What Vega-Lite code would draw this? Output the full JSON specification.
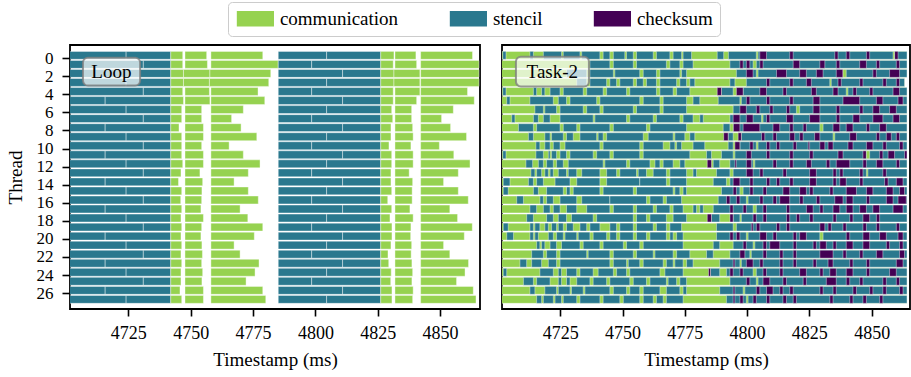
{
"$schema":"https://vega.github.io/schema/vega-lite/v6.json",
"background":"white",
"padding":{"left":5,"top":1,"right":2,"bottom":2},
"spacing":20,
"config":{"font":"Liberation Serif","view":{"stroke":"black","strokeWidth":1.8},
"axis":{"labelFont":"Liberation Serif","titleFont":"Liberation Serif","labelOverlap":false,"grid":false,"domain":false,"tickColor":"black","tickWidth":1.6,"labelColor":"black","titleColor":"black","titleFontWeight":"normal"},
"axisX":{"tickSize":7,"labelFontSize":18,"labelPadding":8,"titleFontSize":19,"titlePadding":8,"labelFlush":false},
"axisY":{"tickSize":8,"labelFontSize":17,"labelPadding":9,"titleFontSize":19,"titlePadding":11,"labelOverlap":false,"labelBound":false},
"legend":{"labelFont":"Liberation Serif","titleFont":"Liberation Serif"},
"text":{"font":"Liberation Serif"}},
"datasets":{
"loop":[
{"t":0,"s":4700,"e":4724.1,"k":"stencil"},{"t":0,"s":4724.1,"e":4742.0,"k":"stencil"},{"t":0,"s":4742.0,"e":4746.8,"k":"communication"},{"t":0,"s":4747.7,"e":4756.4,"k":"communication"},{"t":0,"s":4758.1,"e":4778.9,"k":"communication"},{"t":0,"s":4785.1,"e":4804.5,"k":"stencil"},{"t":0,"s":4804.5,"e":4826.2,"k":"stencil"},{"t":0,"s":4826.2,"e":4831.5,"k":"communication"},{"t":0,"s":4831.9,"e":4840.3,"k":"communication"},{"t":0,"s":4842.2,"e":4863.0,"k":"communication"},
{"t":1,"s":4700,"e":4731.0,"k":"stencil"},{"t":1,"s":4731.0,"e":4742.0,"k":"stencil"},{"t":1,"s":4742.0,"e":4746.8,"k":"communication"},{"t":1,"s":4747.7,"e":4756.7,"k":"communication"},{"t":1,"s":4758.1,"e":4785.1,"k":"communication"},{"t":1,"s":4785.1,"e":4798.5,"k":"stencil"},{"t":1,"s":4798.5,"e":4826.2,"k":"stencil"},{"t":1,"s":4826.2,"e":4831.2,"k":"communication"},{"t":1,"s":4831.9,"e":4840.6,"k":"communication"},{"t":1,"s":4842.2,"e":4865.6,"k":"communication"},
{"t":2,"s":4700,"e":4715.7,"k":"stencil"},{"t":2,"s":4715.7,"e":4742.0,"k":"stencil"},{"t":2,"s":4742.0,"e":4747.1,"k":"communication"},{"t":2,"s":4747.1,"e":4757.7,"k":"communication"},{"t":2,"s":4757.7,"e":4782.1,"k":"communication"},{"t":2,"s":4785.1,"e":4810.9,"k":"stencil"},{"t":2,"s":4810.9,"e":4826.2,"k":"stencil"},{"t":2,"s":4826.2,"e":4831.5,"k":"communication"},{"t":2,"s":4831.5,"e":4841.9,"k":"communication"},{"t":2,"s":4842.2,"e":4865.6,"k":"communication"},
{"t":3,"s":4700,"e":4724.1,"k":"stencil"},{"t":3,"s":4724.1,"e":4742.0,"k":"stencil"},{"t":3,"s":4742.0,"e":4747.1,"k":"communication"},{"t":3,"s":4747.1,"e":4757.5,"k":"communication"},{"t":3,"s":4757.5,"e":4781.3,"k":"communication"},{"t":3,"s":4785.1,"e":4804.5,"k":"stencil"},{"t":3,"s":4804.5,"e":4826.2,"k":"stencil"},{"t":3,"s":4826.2,"e":4831.5,"k":"communication"},{"t":3,"s":4831.5,"e":4841.9,"k":"communication"},{"t":3,"s":4842.2,"e":4865.6,"k":"communication"},
{"t":4,"s":4700,"e":4731.0,"k":"stencil"},{"t":4,"s":4731.0,"e":4742.0,"k":"stencil"},{"t":4,"s":4742.0,"e":4746.8,"k":"communication"},{"t":4,"s":4747.7,"e":4757.5,"k":"communication"},{"t":4,"s":4758.1,"e":4777.0,"k":"communication"},{"t":4,"s":4785.1,"e":4798.5,"k":"stencil"},{"t":4,"s":4798.5,"e":4826.2,"k":"stencil"},{"t":4,"s":4826.2,"e":4831.2,"k":"communication"},{"t":4,"s":4831.9,"e":4841.9,"k":"communication"},{"t":4,"s":4842.2,"e":4861.0,"k":"communication"},
{"t":5,"s":4700,"e":4715.7,"k":"stencil"},{"t":5,"s":4715.7,"e":4742.0,"k":"stencil"},{"t":5,"s":4742.0,"e":4747.1,"k":"communication"},{"t":5,"s":4747.7,"e":4757.7,"k":"communication"},{"t":5,"s":4758.1,"e":4779.7,"k":"communication"},{"t":5,"s":4785.1,"e":4810.9,"k":"stencil"},{"t":5,"s":4810.9,"e":4826.2,"k":"stencil"},{"t":5,"s":4826.2,"e":4831.2,"k":"communication"},{"t":5,"s":4831.9,"e":4840.6,"k":"communication"},{"t":5,"s":4842.2,"e":4863.7,"k":"communication"},
{"t":6,"s":4700,"e":4724.1,"k":"stencil"},{"t":6,"s":4724.1,"e":4742.0,"k":"stencil"},{"t":6,"s":4742.0,"e":4746.4,"k":"communication"},{"t":6,"s":4747.7,"e":4754.4,"k":"communication"},{"t":6,"s":4758.1,"e":4771.1,"k":"communication"},{"t":6,"s":4785.1,"e":4804.5,"k":"stencil"},{"t":6,"s":4804.5,"e":4826.2,"k":"stencil"},{"t":6,"s":4826.2,"e":4830.6,"k":"communication"},{"t":6,"s":4831.9,"e":4838.6,"k":"communication"},{"t":6,"s":4842.2,"e":4855.3,"k":"communication"},
{"t":7,"s":4700,"e":4731.0,"k":"stencil"},{"t":7,"s":4731.0,"e":4742.0,"k":"stencil"},{"t":7,"s":4742.0,"e":4746.4,"k":"communication"},{"t":7,"s":4747.7,"e":4754.4,"k":"communication"},{"t":7,"s":4758.1,"e":4766.4,"k":"communication"},{"t":7,"s":4785.1,"e":4798.5,"k":"stencil"},{"t":7,"s":4798.5,"e":4826.2,"k":"stencil"},{"t":7,"s":4826.2,"e":4831.0,"k":"communication"},{"t":7,"s":4831.9,"e":4838.6,"k":"communication"},{"t":7,"s":4842.2,"e":4850.6,"k":"communication"},
{"t":8,"s":4700,"e":4715.7,"k":"stencil"},{"t":8,"s":4715.7,"e":4742.0,"k":"stencil"},{"t":8,"s":4742.0,"e":4745.3,"k":"communication"},{"t":8,"s":4747.7,"e":4755.1,"k":"communication"},{"t":8,"s":4758.1,"e":4770.2,"k":"communication"},{"t":8,"s":4785.1,"e":4810.9,"k":"stencil"},{"t":8,"s":4810.9,"e":4826.2,"k":"stencil"},{"t":8,"s":4826.2,"e":4830.3,"k":"communication"},{"t":8,"s":4831.9,"e":4839.0,"k":"communication"},{"t":8,"s":4842.2,"e":4854.2,"k":"communication"},
{"t":9,"s":4700,"e":4724.1,"k":"stencil"},{"t":9,"s":4724.1,"e":4742.0,"k":"stencil"},{"t":9,"s":4742.0,"e":4746.4,"k":"communication"},{"t":9,"s":4747.7,"e":4755.1,"k":"communication"},{"t":9,"s":4758.1,"e":4776.5,"k":"communication"},{"t":9,"s":4785.1,"e":4804.5,"k":"stencil"},{"t":9,"s":4804.5,"e":4826.2,"k":"stencil"},{"t":9,"s":4826.2,"e":4830.3,"k":"communication"},{"t":9,"s":4831.9,"e":4839.2,"k":"communication"},{"t":9,"s":4842.2,"e":4860.6,"k":"communication"},
{"t":10,"s":4700,"e":4731.0,"k":"stencil"},{"t":10,"s":4731.0,"e":4742.0,"k":"stencil"},{"t":10,"s":4742.0,"e":4746.4,"k":"communication"},{"t":10,"s":4747.7,"e":4754.4,"k":"communication"},{"t":10,"s":4758.1,"e":4765.4,"k":"communication"},{"t":10,"s":4785.1,"e":4798.5,"k":"stencil"},{"t":10,"s":4798.5,"e":4826.2,"k":"stencil"},{"t":10,"s":4826.2,"e":4829.5,"k":"communication"},{"t":10,"s":4831.9,"e":4838.3,"k":"communication"},{"t":10,"s":4842.2,"e":4849.7,"k":"communication"},
{"t":11,"s":4700,"e":4715.7,"k":"stencil"},{"t":11,"s":4715.7,"e":4742.0,"k":"stencil"},{"t":11,"s":4742.0,"e":4746.4,"k":"communication"},{"t":11,"s":4747.7,"e":4755.1,"k":"communication"},{"t":11,"s":4758.1,"e":4771.1,"k":"communication"},{"t":11,"s":4785.1,"e":4810.9,"k":"stencil"},{"t":11,"s":4810.9,"e":4826.2,"k":"stencil"},{"t":11,"s":4826.2,"e":4830.6,"k":"communication"},{"t":11,"s":4831.9,"e":4839.2,"k":"communication"},{"t":11,"s":4842.2,"e":4855.5,"k":"communication"},
{"t":12,"s":4700,"e":4724.1,"k":"stencil"},{"t":12,"s":4724.1,"e":4742.0,"k":"stencil"},{"t":12,"s":4742.0,"e":4746.8,"k":"communication"},{"t":12,"s":4747.7,"e":4755.1,"k":"communication"},{"t":12,"s":4758.1,"e":4777.8,"k":"communication"},{"t":12,"s":4785.1,"e":4804.5,"k":"stencil"},{"t":12,"s":4804.5,"e":4826.2,"k":"stencil"},{"t":12,"s":4826.2,"e":4830.6,"k":"communication"},{"t":12,"s":4831.9,"e":4839.2,"k":"communication"},{"t":12,"s":4842.2,"e":4862.0,"k":"communication"},
{"t":13,"s":4700,"e":4731.0,"k":"stencil"},{"t":13,"s":4731.0,"e":4742.0,"k":"stencil"},{"t":13,"s":4742.0,"e":4746.1,"k":"communication"},{"t":13,"s":4747.7,"e":4753.7,"k":"communication"},{"t":13,"s":4758.1,"e":4773.1,"k":"communication"},{"t":13,"s":4785.1,"e":4798.5,"k":"stencil"},{"t":13,"s":4798.5,"e":4826.2,"k":"stencil"},{"t":13,"s":4826.2,"e":4830.3,"k":"communication"},{"t":13,"s":4831.9,"e":4837.6,"k":"communication"},{"t":13,"s":4842.2,"e":4857.3,"k":"communication"},
{"t":14,"s":4700,"e":4715.7,"k":"stencil"},{"t":14,"s":4715.7,"e":4742.0,"k":"stencil"},{"t":14,"s":4742.0,"e":4745.1,"k":"communication"},{"t":14,"s":4747.7,"e":4754.8,"k":"communication"},{"t":14,"s":4758.1,"e":4767.4,"k":"communication"},{"t":14,"s":4785.1,"e":4810.9,"k":"stencil"},{"t":14,"s":4810.9,"e":4826.2,"k":"stencil"},{"t":14,"s":4826.2,"e":4830.3,"k":"communication"},{"t":14,"s":4831.9,"e":4839.0,"k":"communication"},{"t":14,"s":4842.2,"e":4851.4,"k":"communication"},
{"t":15,"s":4700,"e":4724.1,"k":"stencil"},{"t":15,"s":4724.1,"e":4742.0,"k":"stencil"},{"t":15,"s":4742.0,"e":4746.4,"k":"communication"},{"t":15,"s":4747.7,"e":4754.5,"k":"communication"},{"t":15,"s":4758.1,"e":4773.1,"k":"communication"},{"t":15,"s":4785.1,"e":4804.5,"k":"stencil"},{"t":15,"s":4804.5,"e":4826.2,"k":"stencil"},{"t":15,"s":4826.2,"e":4830.6,"k":"communication"},{"t":15,"s":4831.9,"e":4838.8,"k":"communication"},{"t":15,"s":4842.2,"e":4857.3,"k":"communication"},
{"t":16,"s":4700,"e":4731.0,"k":"stencil"},{"t":16,"s":4731.0,"e":4742.0,"k":"stencil"},{"t":16,"s":4742.0,"e":4746.0,"k":"communication"},{"t":16,"s":4747.7,"e":4754.4,"k":"communication"},{"t":16,"s":4758.1,"e":4777.1,"k":"communication"},{"t":16,"s":4785.1,"e":4798.5,"k":"stencil"},{"t":16,"s":4798.5,"e":4826.2,"k":"stencil"},{"t":16,"s":4826.2,"e":4829.0,"k":"communication"},{"t":16,"s":4831.9,"e":4838.8,"k":"communication"},{"t":16,"s":4842.2,"e":4861.3,"k":"communication"},
{"t":17,"s":4700,"e":4715.7,"k":"stencil"},{"t":17,"s":4715.7,"e":4742.0,"k":"stencil"},{"t":17,"s":4742.0,"e":4746.4,"k":"communication"},{"t":17,"s":4747.7,"e":4754.1,"k":"communication"},{"t":17,"s":4758.1,"e":4769.8,"k":"communication"},{"t":17,"s":4785.1,"e":4810.9,"k":"stencil"},{"t":17,"s":4810.9,"e":4826.2,"k":"stencil"},{"t":17,"s":4826.2,"e":4830.6,"k":"communication"},{"t":17,"s":4831.9,"e":4837.9,"k":"communication"},{"t":17,"s":4842.2,"e":4853.9,"k":"communication"},
{"t":18,"s":4700,"e":4724.1,"k":"stencil"},{"t":18,"s":4724.1,"e":4742.0,"k":"stencil"},{"t":18,"s":4742.0,"e":4746.1,"k":"communication"},{"t":18,"s":4747.7,"e":4755.1,"k":"communication"},{"t":18,"s":4758.1,"e":4772.9,"k":"communication"},{"t":18,"s":4785.1,"e":4804.5,"k":"stencil"},{"t":18,"s":4804.5,"e":4826.2,"k":"stencil"},{"t":18,"s":4826.2,"e":4829.9,"k":"communication"},{"t":18,"s":4831.9,"e":4839.2,"k":"communication"},{"t":18,"s":4842.2,"e":4857.0,"k":"communication"},
{"t":19,"s":4700,"e":4731.0,"k":"stencil"},{"t":19,"s":4731.0,"e":4742.0,"k":"stencil"},{"t":19,"s":4742.0,"e":4746.4,"k":"communication"},{"t":19,"s":4747.7,"e":4754.4,"k":"communication"},{"t":19,"s":4758.1,"e":4778.9,"k":"communication"},{"t":19,"s":4785.1,"e":4798.5,"k":"stencil"},{"t":19,"s":4798.5,"e":4826.2,"k":"stencil"},{"t":19,"s":4826.2,"e":4830.7,"k":"communication"},{"t":19,"s":4831.9,"e":4838.3,"k":"communication"},{"t":19,"s":4842.2,"e":4862.9,"k":"communication"},
{"t":20,"s":4700,"e":4715.7,"k":"stencil"},{"t":20,"s":4715.7,"e":4742.0,"k":"stencil"},{"t":20,"s":4742.0,"e":4746.1,"k":"communication"},{"t":20,"s":4747.7,"e":4754.1,"k":"communication"},{"t":20,"s":4758.1,"e":4775.5,"k":"communication"},{"t":20,"s":4785.1,"e":4810.9,"k":"stencil"},{"t":20,"s":4810.9,"e":4826.2,"k":"stencil"},{"t":20,"s":4826.2,"e":4830.7,"k":"communication"},{"t":20,"s":4831.9,"e":4838.2,"k":"communication"},{"t":20,"s":4842.2,"e":4859.7,"k":"communication"},
{"t":21,"s":4700,"e":4724.1,"k":"stencil"},{"t":21,"s":4724.1,"e":4742.0,"k":"stencil"},{"t":21,"s":4742.0,"e":4746.4,"k":"communication"},{"t":21,"s":4747.7,"e":4754.5,"k":"communication"},{"t":21,"s":4758.1,"e":4767.4,"k":"communication"},{"t":21,"s":4785.1,"e":4804.5,"k":"stencil"},{"t":21,"s":4804.5,"e":4826.2,"k":"stencil"},{"t":21,"s":4826.2,"e":4830.3,"k":"communication"},{"t":21,"s":4831.9,"e":4838.6,"k":"communication"},{"t":21,"s":4842.2,"e":4851.4,"k":"communication"},
{"t":22,"s":4700,"e":4731.0,"k":"stencil"},{"t":22,"s":4731.0,"e":4742.0,"k":"stencil"},{"t":22,"s":4742.0,"e":4746.1,"k":"communication"},{"t":22,"s":4747.7,"e":4754.7,"k":"communication"},{"t":22,"s":4758.1,"e":4769.8,"k":"communication"},{"t":22,"s":4785.1,"e":4798.5,"k":"stencil"},{"t":22,"s":4798.5,"e":4826.2,"k":"stencil"},{"t":22,"s":4826.2,"e":4829.1,"k":"communication"},{"t":22,"s":4831.9,"e":4838.4,"k":"communication"},{"t":22,"s":4842.2,"e":4853.9,"k":"communication"},
{"t":23,"s":4700,"e":4715.7,"k":"stencil"},{"t":23,"s":4715.7,"e":4742.0,"k":"stencil"},{"t":23,"s":4742.0,"e":4746.4,"k":"communication"},{"t":23,"s":4747.7,"e":4754.4,"k":"communication"},{"t":23,"s":4758.1,"e":4777.4,"k":"communication"},{"t":23,"s":4785.1,"e":4810.9,"k":"stencil"},{"t":23,"s":4810.9,"e":4826.2,"k":"stencil"},{"t":23,"s":4826.2,"e":4829.4,"k":"communication"},{"t":23,"s":4831.9,"e":4838.7,"k":"communication"},{"t":23,"s":4842.2,"e":4861.4,"k":"communication"},
{"t":24,"s":4700,"e":4724.1,"k":"stencil"},{"t":24,"s":4724.1,"e":4742.0,"k":"stencil"},{"t":24,"s":4742.0,"e":4746.1,"k":"communication"},{"t":24,"s":4747.7,"e":4754.8,"k":"communication"},{"t":24,"s":4758.1,"e":4775.8,"k":"communication"},{"t":24,"s":4785.1,"e":4804.5,"k":"stencil"},{"t":24,"s":4804.5,"e":4826.2,"k":"stencil"},{"t":24,"s":4826.2,"e":4830.4,"k":"communication"},{"t":24,"s":4831.9,"e":4839.0,"k":"communication"},{"t":24,"s":4842.2,"e":4860.0,"k":"communication"},
{"t":25,"s":4700,"e":4731.0,"k":"stencil"},{"t":25,"s":4731.0,"e":4742.0,"k":"stencil"},{"t":25,"s":4742.0,"e":4746.1,"k":"communication"},{"t":25,"s":4747.7,"e":4754.5,"k":"communication"},{"t":25,"s":4758.1,"e":4772.2,"k":"communication"},{"t":25,"s":4785.1,"e":4798.5,"k":"stencil"},{"t":25,"s":4798.5,"e":4826.2,"k":"stencil"},{"t":25,"s":4826.2,"e":4830.2,"k":"communication"},{"t":25,"s":4831.9,"e":4838.7,"k":"communication"},{"t":25,"s":4842.2,"e":4856.6,"k":"communication"},
{"t":26,"s":4700,"e":4715.7,"k":"stencil"},{"t":26,"s":4715.7,"e":4742.0,"k":"stencil"},{"t":26,"s":4742.0,"e":4745.7,"k":"communication"},{"t":26,"s":4747.7,"e":4755.1,"k":"communication"},{"t":26,"s":4758.1,"e":4778.9,"k":"communication"},{"t":26,"s":4785.1,"e":4810.9,"k":"stencil"},{"t":26,"s":4810.9,"e":4826.2,"k":"stencil"},{"t":26,"s":4826.2,"e":4830.7,"k":"communication"},{"t":26,"s":4831.9,"e":4839.2,"k":"communication"},{"t":26,"s":4842.2,"e":4863.3,"k":"communication"},
{"t":27,"s":4700,"e":4724.1,"k":"stencil"},{"t":27,"s":4724.1,"e":4742.0,"k":"stencil"},{"t":27,"s":4742.0,"e":4746.4,"k":"communication"},{"t":27,"s":4747.7,"e":4755.1,"k":"communication"},{"t":27,"s":4758.1,"e":4780.1,"k":"communication"},{"t":27,"s":4785.1,"e":4804.5,"k":"stencil"},{"t":27,"s":4804.5,"e":4826.2,"k":"stencil"},{"t":27,"s":4826.2,"e":4830.7,"k":"communication"},{"t":27,"s":4831.9,"e":4839.0,"k":"communication"},{"t":27,"s":4842.2,"e":4864.4,"k":"communication"}
],
"task":[
{"t":0,"s":4700,"e":4864.2,"k":"communication"},
{"t":0,"s":4701.9,"e":4703.2,"k":"stencil"},{"t":0,"s":4712.8,"e":4714.2,"k":"stencil"},{"t":0,"s":4718.2,"e":4725.5,"k":"stencil"},{"t":0,"s":4726.2,"e":4732.9,"k":"stencil"},{"t":0,"s":4733.6,"e":4740.9,"k":"stencil"},{"t":0,"s":4742.2,"e":4744.9,"k":"stencil"},{"t":0,"s":4746.3,"e":4750.9,"k":"stencil"},{"t":0,"s":4751.6,"e":4754.3,"k":"stencil"},{"t":0,"s":4755.6,"e":4762.3,"k":"stencil"},{"t":0,"s":4763.6,"e":4769.0,"k":"stencil"},{"t":0,"s":4770.3,"e":4773.7,"k":"stencil"},{"t":0,"s":4774.3,"e":4777.7,"k":"stencil"},{"t":0,"s":4788.0,"e":4790.6,"k":"stencil"},{"t":0,"s":4792.5,"e":4864.2,"k":"stencil"},
{"t":0,"s":4805.1,"e":4807.8,"k":"checksum"},{"t":0,"s":4817.1,"e":4818.5,"k":"checksum"},{"t":0,"s":4835.2,"e":4836.5,"k":"checksum"},{"t":0,"s":4839.8,"e":4841.2,"k":"checksum"},{"t":0,"s":4847.9,"e":4849.2,"k":"checksum"},{"t":0,"s":4859.2,"e":4860.6,"k":"checksum"},
{"t":0,"s":4803.7,"e":4804.4,"k":"communication"},{"t":0,"s":4858.6,"e":4859.2,"k":"communication"},
{"t":1,"s":4700,"e":4864.2,"k":"communication"},
{"t":1,"s":4736.9,"e":4744.9,"k":"stencil"},{"t":1,"s":4746.3,"e":4754.3,"k":"stencil"},{"t":1,"s":4755.6,"e":4767.6,"k":"stencil"},{"t":1,"s":4769.0,"e":4773.0,"k":"stencil"},{"t":1,"s":4774.3,"e":4778.3,"k":"stencil"},{"t":1,"s":4793.1,"e":4864.2,"k":"stencil"},
{"t":1,"s":4797.1,"e":4798.4,"k":"checksum"},{"t":1,"s":4799.7,"e":4801.1,"k":"checksum"},{"t":1,"s":4805.1,"e":4806.4,"k":"checksum"},{"t":1,"s":4818.5,"e":4821.1,"k":"checksum"},{"t":1,"s":4829.2,"e":4831.2,"k":"checksum"},{"t":1,"s":4835.8,"e":4837.2,"k":"checksum"},{"t":1,"s":4845.2,"e":4847.9,"k":"checksum"},{"t":1,"s":4851.9,"e":4853.2,"k":"checksum"},{"t":1,"s":4859.9,"e":4861.2,"k":"checksum"},
{"t":1,"s":4802.4,"e":4803.7,"k":"communication"},
{"t":2,"s":4700,"e":4864.2,"k":"communication"},
{"t":2,"s":4727.5,"e":4735.6,"k":"stencil"},{"t":2,"s":4736.9,"e":4746.3,"k":"stencil"},{"t":2,"s":4746.9,"e":4756.9,"k":"stencil"},{"t":2,"s":4758.3,"e":4763.6,"k":"stencil"},{"t":2,"s":4765.0,"e":4773.0,"k":"stencil"},{"t":2,"s":4773.7,"e":4775.7,"k":"stencil"},{"t":2,"s":4795.7,"e":4864.2,"k":"stencil"},
{"t":2,"s":4799.7,"e":4802.4,"k":"checksum"},{"t":2,"s":4811.8,"e":4815.8,"k":"checksum"},{"t":2,"s":4821.1,"e":4823.8,"k":"checksum"},{"t":2,"s":4827.8,"e":4830.5,"k":"checksum"},{"t":2,"s":4835.8,"e":4838.5,"k":"checksum"},{"t":2,"s":4850.5,"e":4851.9,"k":"checksum"},{"t":2,"s":4857.2,"e":4861.2,"k":"checksum"},
{"t":2,"s":4803.7,"e":4804.4,"k":"communication"},{"t":2,"s":4838.5,"e":4839.8,"k":"communication"},
{"t":3,"s":4700,"e":4863.2,"k":"communication"},
{"t":3,"s":4731.6,"e":4735.6,"k":"stencil"},{"t":3,"s":4736.9,"e":4743.6,"k":"stencil"},{"t":3,"s":4744.9,"e":4747.6,"k":"stencil"},{"t":3,"s":4748.9,"e":4754.3,"k":"stencil"},{"t":3,"s":4755.6,"e":4758.3,"k":"stencil"},{"t":3,"s":4759.6,"e":4763.6,"k":"stencil"},{"t":3,"s":4765.0,"e":4771.7,"k":"stencil"},{"t":3,"s":4773.0,"e":4775.7,"k":"stencil"},{"t":3,"s":4777.0,"e":4779.0,"k":"stencil"},{"t":3,"s":4793.1,"e":4795.1,"k":"stencil"},{"t":3,"s":4799.7,"e":4863.2,"k":"stencil"},
{"t":3,"s":4807.8,"e":4809.1,"k":"checksum"},{"t":3,"s":4817.1,"e":4818.5,"k":"checksum"},{"t":3,"s":4823.8,"e":4825.8,"k":"checksum"},{"t":3,"s":4836.5,"e":4837.8,"k":"checksum"},{"t":3,"s":4845.2,"e":4846.5,"k":"checksum"},{"t":3,"s":4854.5,"e":4855.9,"k":"checksum"},{"t":3,"s":4859.9,"e":4861.2,"k":"checksum"},
{"t":3,"s":4833.2,"e":4833.8,"k":"communication"},
{"t":4,"s":4700,"e":4864.2,"k":"communication"},
{"t":4,"s":4701.9,"e":4703.2,"k":"stencil"},{"t":4,"s":4714.2,"e":4715.5,"k":"stencil"},{"t":4,"s":4717.5,"e":4718.8,"k":"stencil"},{"t":4,"s":4720.9,"e":4724.9,"k":"stencil"},{"t":4,"s":4726.2,"e":4734.2,"k":"stencil"},{"t":4,"s":4735.6,"e":4742.2,"k":"stencil"},{"t":4,"s":4743.6,"e":4751.6,"k":"stencil"},{"t":4,"s":4752.9,"e":4763.6,"k":"stencil"},{"t":4,"s":4765.0,"e":4770.3,"k":"stencil"},{"t":4,"s":4771.7,"e":4777.0,"k":"stencil"},{"t":4,"s":4789.7,"e":4794.4,"k":"stencil"},{"t":4,"s":4798.4,"e":4864.2,"k":"stencil"},
{"t":4,"s":4788.0,"e":4789.7,"k":"checksum"},{"t":4,"s":4795.7,"e":4798.4,"k":"checksum"},{"t":4,"s":4805.1,"e":4807.8,"k":"checksum"},{"t":4,"s":4814.4,"e":4815.8,"k":"checksum"},{"t":4,"s":4825.8,"e":4827.8,"k":"checksum"},{"t":4,"s":4834.5,"e":4836.5,"k":"checksum"},{"t":4,"s":4842.5,"e":4843.9,"k":"checksum"},{"t":4,"s":4849.2,"e":4850.5,"k":"checksum"},{"t":4,"s":4858.6,"e":4861.2,"k":"checksum"},
{"t":4,"s":4839.8,"e":4840.5,"k":"communication"},
{"t":5,"s":4700,"e":4864.2,"k":"communication"},
{"t":5,"s":4703.5,"e":4704.8,"k":"stencil"},{"t":5,"s":4712.8,"e":4722.2,"k":"stencil"},{"t":5,"s":4724.2,"e":4727.5,"k":"stencil"},{"t":5,"s":4728.9,"e":4739.6,"k":"stencil"},{"t":5,"s":4740.9,"e":4756.9,"k":"stencil"},{"t":5,"s":4758.3,"e":4765.0,"k":"stencil"},{"t":5,"s":4766.3,"e":4775.7,"k":"stencil"},{"t":5,"s":4778.3,"e":4781.0,"k":"stencil"},{"t":5,"s":4788.4,"e":4864.2,"k":"stencil"},
{"t":5,"s":4799.7,"e":4801.1,"k":"checksum"},{"t":5,"s":4807.8,"e":4809.1,"k":"checksum"},{"t":5,"s":4817.1,"e":4818.5,"k":"checksum"},{"t":5,"s":4826.5,"e":4829.2,"k":"checksum"},{"t":5,"s":4838.5,"e":4845.2,"k":"checksum"},{"t":5,"s":4851.9,"e":4854.5,"k":"checksum"},{"t":5,"s":4860.6,"e":4862.6,"k":"checksum"},
{"t":5,"s":4797.1,"e":4797.7,"k":"communication"},
{"t":6,"s":4700,"e":4864.2,"k":"communication"},
{"t":6,"s":4714.8,"e":4718.2,"k":"stencil"},{"t":6,"s":4718.8,"e":4723.5,"k":"stencil"},{"t":6,"s":4724.9,"e":4734.2,"k":"stencil"},{"t":6,"s":4735.6,"e":4740.9,"k":"stencil"},{"t":6,"s":4742.2,"e":4754.3,"k":"stencil"},{"t":6,"s":4755.6,"e":4765.0,"k":"stencil"},{"t":6,"s":4766.3,"e":4775.7,"k":"stencil"},{"t":6,"s":4794.4,"e":4864.2,"k":"stencil"},
{"t":6,"s":4797.1,"e":4799.7,"k":"checksum"},{"t":6,"s":4803.7,"e":4805.1,"k":"checksum"},{"t":6,"s":4809.1,"e":4810.4,"k":"checksum"},{"t":6,"s":4815.8,"e":4817.1,"k":"checksum"},{"t":6,"s":4826.5,"e":4829.2,"k":"checksum"},{"t":6,"s":4835.8,"e":4837.2,"k":"checksum"},{"t":6,"s":4845.2,"e":4846.5,"k":"checksum"},{"t":6,"s":4850.5,"e":4853.2,"k":"checksum"},{"t":6,"s":4857.2,"e":4859.9,"k":"checksum"},
{"t":6,"s":4819.8,"e":4821.1,"k":"communication"},
{"t":7,"s":4700,"e":4864.2,"k":"communication"},
{"t":7,"s":4705.5,"e":4706.8,"k":"stencil"},{"t":7,"s":4714.2,"e":4716.2,"k":"stencil"},{"t":7,"s":4718.2,"e":4720.9,"k":"stencil"},{"t":7,"s":4724.9,"e":4738.2,"k":"stencil"},{"t":7,"s":4738.9,"e":4751.6,"k":"stencil"},{"t":7,"s":4752.9,"e":4762.3,"k":"stencil"},{"t":7,"s":4763.6,"e":4773.0,"k":"stencil"},{"t":7,"s":4774.3,"e":4778.3,"k":"stencil"},{"t":7,"s":4781.0,"e":4782.4,"k":"stencil"},{"t":7,"s":4793.1,"e":4864.2,"k":"stencil"},
{"t":7,"s":4794.4,"e":4797.1,"k":"checksum"},{"t":7,"s":4799.7,"e":4802.4,"k":"checksum"},{"t":7,"s":4807.8,"e":4809.1,"k":"checksum"},{"t":7,"s":4815.8,"e":4818.5,"k":"checksum"},{"t":7,"s":4825.1,"e":4829.2,"k":"checksum"},{"t":7,"s":4835.8,"e":4837.2,"k":"checksum"},{"t":7,"s":4842.5,"e":4845.2,"k":"checksum"},{"t":7,"s":4850.5,"e":4854.5,"k":"checksum"},{"t":7,"s":4858.6,"e":4861.2,"k":"checksum"},
{"t":7,"s":4805.8,"e":4806.4,"k":"communication"},
{"t":8,"s":4700,"e":4864.2,"k":"communication"},
{"t":8,"s":4708.2,"e":4714.2,"k":"stencil"},{"t":8,"s":4715.5,"e":4724.9,"k":"stencil"},{"t":8,"s":4726.2,"e":4731.6,"k":"stencil"},{"t":8,"s":4732.9,"e":4744.9,"k":"stencil"},{"t":8,"s":4746.3,"e":4759.6,"k":"stencil"},{"t":8,"s":4761.0,"e":4775.7,"k":"stencil"},{"t":8,"s":4790.4,"e":4864.2,"k":"stencil"},
{"t":8,"s":4794.4,"e":4797.1,"k":"checksum"},{"t":8,"s":4798.4,"e":4805.1,"k":"checksum"},{"t":8,"s":4810.4,"e":4813.1,"k":"checksum"},{"t":8,"s":4817.1,"e":4818.5,"k":"checksum"},{"t":8,"s":4822.5,"e":4823.8,"k":"checksum"},{"t":8,"s":4834.5,"e":4837.2,"k":"checksum"},{"t":8,"s":4839.8,"e":4842.5,"k":"checksum"},{"t":8,"s":4847.9,"e":4849.2,"k":"checksum"},{"t":8,"s":4853.2,"e":4855.9,"k":"checksum"},
{"t":8,"s":4793.1,"e":4794.4,"k":"communication"},{"t":8,"s":4829.2,"e":4830.5,"k":"communication"},
{"t":9,"s":4700,"e":4864.2,"k":"communication"},
{"t":9,"s":4712.2,"e":4714.2,"k":"stencil"},{"t":9,"s":4718.8,"e":4720.9,"k":"stencil"},{"t":9,"s":4721.5,"e":4726.2,"k":"stencil"},{"t":9,"s":4727.5,"e":4730.2,"k":"stencil"},{"t":9,"s":4732.9,"e":4739.6,"k":"stencil"},{"t":9,"s":4740.2,"e":4742.2,"k":"stencil"},{"t":9,"s":4743.6,"e":4758.3,"k":"stencil"},{"t":9,"s":4760.3,"e":4770.3,"k":"stencil"},{"t":9,"s":4771.0,"e":4775.0,"k":"stencil"},{"t":9,"s":4777.0,"e":4779.0,"k":"stencil"},{"t":9,"s":4792.4,"e":4794.4,"k":"stencil"},{"t":9,"s":4797.7,"e":4864.2,"k":"stencil"},
{"t":9,"s":4790.6,"e":4792.4,"k":"checksum"},{"t":9,"s":4796.4,"e":4797.7,"k":"checksum"},{"t":9,"s":4805.8,"e":4807.1,"k":"checksum"},{"t":9,"s":4810.4,"e":4811.8,"k":"checksum"},{"t":9,"s":4817.1,"e":4819.1,"k":"checksum"},{"t":9,"s":4821.1,"e":4822.5,"k":"checksum"},{"t":9,"s":4827.1,"e":4829.2,"k":"checksum"},{"t":9,"s":4841.2,"e":4843.9,"k":"checksum"},{"t":9,"s":4851.9,"e":4853.2,"k":"checksum"},{"t":9,"s":4855.9,"e":4857.9,"k":"checksum"},{"t":9,"s":4859.9,"e":4861.2,"k":"checksum"},
{"t":9,"s":4834.5,"e":4835.2,"k":"communication"},
{"t":10,"s":4700,"e":4864.2,"k":"communication"},
{"t":10,"s":4715.2,"e":4716.8,"k":"stencil"},{"t":10,"s":4718.8,"e":4720.9,"k":"stencil"},{"t":10,"s":4722.2,"e":4724.9,"k":"stencil"},{"t":10,"s":4726.9,"e":4740.9,"k":"stencil"},{"t":10,"s":4742.2,"e":4756.9,"k":"stencil"},{"t":10,"s":4758.3,"e":4766.3,"k":"stencil"},{"t":10,"s":4769.0,"e":4771.0,"k":"stencil"},{"t":10,"s":4771.7,"e":4773.7,"k":"stencil"},{"t":10,"s":4778.3,"e":4783.0,"k":"stencil"},{"t":10,"s":4792.4,"e":4794.4,"k":"stencil"},{"t":10,"s":4797.1,"e":4864.2,"k":"stencil"},
{"t":10,"s":4795.1,"e":4797.1,"k":"checksum"},{"t":10,"s":4801.1,"e":4802.4,"k":"checksum"},{"t":10,"s":4807.8,"e":4809.1,"k":"checksum"},{"t":10,"s":4811.8,"e":4813.1,"k":"checksum"},{"t":10,"s":4818.5,"e":4819.8,"k":"checksum"},{"t":10,"s":4824.5,"e":4825.1,"k":"checksum"},{"t":10,"s":4829.2,"e":4831.2,"k":"checksum"},{"t":10,"s":4832.5,"e":4834.5,"k":"checksum"},{"t":10,"s":4840.5,"e":4842.5,"k":"checksum"},{"t":10,"s":4847.9,"e":4850.5,"k":"checksum"},{"t":10,"s":4854.5,"e":4855.9,"k":"checksum"},{"t":10,"s":4861.2,"e":4862.6,"k":"checksum"},
{"t":10,"s":4803.7,"e":4804.4,"k":"communication"},
{"t":11,"s":4700,"e":4864.2,"k":"communication"},
{"t":11,"s":4701.9,"e":4703.2,"k":"stencil"},{"t":11,"s":4715.2,"e":4718.2,"k":"stencil"},{"t":11,"s":4720.2,"e":4720.9,"k":"stencil"},{"t":11,"s":4721.5,"e":4723.5,"k":"stencil"},{"t":11,"s":4724.9,"e":4727.5,"k":"stencil"},{"t":11,"s":4728.9,"e":4738.2,"k":"stencil"},{"t":11,"s":4739.6,"e":4744.9,"k":"stencil"},{"t":11,"s":4746.3,"e":4756.9,"k":"stencil"},{"t":11,"s":4758.3,"e":4777.0,"k":"stencil"},{"t":11,"s":4783.7,"e":4785.7,"k":"stencil"},{"t":11,"s":4789.7,"e":4864.2,"k":"stencil"},
{"t":11,"s":4799.7,"e":4801.7,"k":"checksum"},{"t":11,"s":4807.8,"e":4809.1,"k":"checksum"},{"t":11,"s":4817.1,"e":4818.5,"k":"checksum"},{"t":11,"s":4825.1,"e":4826.5,"k":"checksum"},{"t":11,"s":4836.5,"e":4838.5,"k":"checksum"},{"t":11,"s":4846.5,"e":4847.9,"k":"checksum"},{"t":11,"s":4853.2,"e":4854.5,"k":"checksum"},{"t":11,"s":4856.6,"e":4859.2,"k":"checksum"},{"t":11,"s":4863.2,"e":4864.2,"k":"checksum"},
{"t":11,"s":4794.4,"e":4795.1,"k":"communication"},{"t":11,"s":4847.9,"e":4849.2,"k":"communication"},
{"t":12,"s":4700,"e":4864.2,"k":"communication"},
{"t":12,"s":4711.2,"e":4713.9,"k":"stencil"},{"t":12,"s":4716.2,"e":4718.2,"k":"stencil"},{"t":12,"s":4719.5,"e":4722.2,"k":"stencil"},{"t":12,"s":4723.5,"e":4726.2,"k":"stencil"},{"t":12,"s":4728.2,"e":4742.2,"k":"stencil"},{"t":12,"s":4742.9,"e":4751.6,"k":"stencil"},{"t":12,"s":4752.9,"e":4761.0,"k":"stencil"},{"t":12,"s":4763.0,"e":4765.0,"k":"stencil"},{"t":12,"s":4766.3,"e":4770.3,"k":"stencil"},{"t":12,"s":4773.0,"e":4775.0,"k":"stencil"},{"t":12,"s":4786.4,"e":4789.0,"k":"stencil"},{"t":12,"s":4793.1,"e":4864.2,"k":"stencil"},
{"t":12,"s":4784.0,"e":4785.7,"k":"checksum"},{"t":12,"s":4795.1,"e":4795.7,"k":"checksum"},{"t":12,"s":4799.7,"e":4801.7,"k":"checksum"},{"t":12,"s":4810.4,"e":4811.8,"k":"checksum"},{"t":12,"s":4817.1,"e":4818.5,"k":"checksum"},{"t":12,"s":4823.8,"e":4825.8,"k":"checksum"},{"t":12,"s":4831.8,"e":4833.2,"k":"checksum"},{"t":12,"s":4835.8,"e":4841.2,"k":"checksum"},{"t":12,"s":4846.5,"e":4847.9,"k":"checksum"},{"t":12,"s":4851.9,"e":4854.5,"k":"checksum"},{"t":12,"s":4859.9,"e":4861.2,"k":"checksum"},
{"t":12,"s":4802.4,"e":4803.1,"k":"communication"},
{"t":13,"s":4700,"e":4864.2,"k":"communication"},
{"t":13,"s":4713.2,"e":4714.8,"k":"stencil"},{"t":13,"s":4715.5,"e":4717.5,"k":"stencil"},{"t":13,"s":4718.8,"e":4720.2,"k":"stencil"},{"t":13,"s":4720.9,"e":4722.2,"k":"stencil"},{"t":13,"s":4724.2,"e":4727.5,"k":"stencil"},{"t":13,"s":4728.2,"e":4731.6,"k":"stencil"},{"t":13,"s":4733.6,"e":4740.9,"k":"stencil"},{"t":13,"s":4743.6,"e":4747.6,"k":"stencil"},{"t":13,"s":4748.9,"e":4755.6,"k":"stencil"},{"t":13,"s":4756.3,"e":4759.6,"k":"stencil"},{"t":13,"s":4762.3,"e":4767.6,"k":"stencil"},{"t":13,"s":4769.0,"e":4775.7,"k":"stencil"},{"t":13,"s":4778.3,"e":4779.7,"k":"stencil"},{"t":13,"s":4787.7,"e":4864.2,"k":"stencil"},
{"t":13,"s":4799.7,"e":4802.4,"k":"checksum"},{"t":13,"s":4805.1,"e":4806.4,"k":"checksum"},{"t":13,"s":4814.4,"e":4815.8,"k":"checksum"},{"t":13,"s":4825.1,"e":4827.8,"k":"checksum"},{"t":13,"s":4834.5,"e":4835.8,"k":"checksum"},{"t":13,"s":4837.2,"e":4838.5,"k":"checksum"},{"t":13,"s":4845.2,"e":4846.5,"k":"checksum"},{"t":13,"s":4854.5,"e":4855.9,"k":"checksum"},
{"t":13,"s":4793.1,"e":4794.4,"k":"communication"},{"t":13,"s":4847.9,"e":4848.5,"k":"communication"},
{"t":14,"s":4700,"e":4864.2,"k":"communication"},
{"t":14,"s":4702.1,"e":4704.8,"k":"stencil"},{"t":14,"s":4712.2,"e":4714.2,"k":"stencil"},{"t":14,"s":4715.5,"e":4718.2,"k":"stencil"},{"t":14,"s":4722.9,"e":4728.9,"k":"stencil"},{"t":14,"s":4731.6,"e":4740.9,"k":"stencil"},{"t":14,"s":4743.6,"e":4756.9,"k":"stencil"},{"t":14,"s":4756.9,"e":4767.6,"k":"stencil"},{"t":14,"s":4769.0,"e":4775.7,"k":"stencil"},{"t":14,"s":4786.4,"e":4864.2,"k":"stencil"},
{"t":14,"s":4794.4,"e":4797.1,"k":"checksum"},{"t":14,"s":4801.1,"e":4802.4,"k":"checksum"},{"t":14,"s":4807.8,"e":4809.1,"k":"checksum"},{"t":14,"s":4811.8,"e":4813.1,"k":"checksum"},{"t":14,"s":4817.1,"e":4818.5,"k":"checksum"},{"t":14,"s":4825.1,"e":4827.8,"k":"checksum"},{"t":14,"s":4834.5,"e":4835.8,"k":"checksum"},{"t":14,"s":4837.2,"e":4839.8,"k":"checksum"},{"t":14,"s":4845.2,"e":4846.5,"k":"checksum"},{"t":14,"s":4855.2,"e":4856.6,"k":"checksum"},{"t":14,"s":4859.9,"e":4862.6,"k":"checksum"},
{"t":14,"s":4791.7,"e":4793.1,"k":"communication"},
{"t":15,"s":4700,"e":4864.2,"k":"communication"},
{"t":15,"s":4702.1,"e":4704.1,"k":"stencil"},{"t":15,"s":4714.2,"e":4716.2,"k":"stencil"},{"t":15,"s":4719.5,"e":4726.2,"k":"stencil"},{"t":15,"s":4727.5,"e":4728.9,"k":"stencil"},{"t":15,"s":4730.2,"e":4740.9,"k":"stencil"},{"t":15,"s":4742.2,"e":4754.3,"k":"stencil"},{"t":15,"s":4755.6,"e":4770.3,"k":"stencil"},{"t":15,"s":4771.0,"e":4773.0,"k":"stencil"},{"t":15,"s":4774.3,"e":4775.7,"k":"stencil"},{"t":15,"s":4789.7,"e":4864.2,"k":"stencil"},
{"t":15,"s":4794.4,"e":4795.7,"k":"checksum"},{"t":15,"s":4801.1,"e":4802.4,"k":"checksum"},{"t":15,"s":4806.4,"e":4807.8,"k":"checksum"},{"t":15,"s":4814.4,"e":4817.1,"k":"checksum"},{"t":15,"s":4821.1,"e":4823.8,"k":"checksum"},{"t":15,"s":4825.1,"e":4826.5,"k":"checksum"},{"t":15,"s":4833.2,"e":4834.5,"k":"checksum"},{"t":15,"s":4839.8,"e":4843.9,"k":"checksum"},{"t":15,"s":4847.9,"e":4850.5,"k":"checksum"},{"t":15,"s":4855.9,"e":4858.6,"k":"checksum"},{"t":15,"s":4861.2,"e":4863.2,"k":"checksum"},
{"t":15,"s":4797.1,"e":4798.4,"k":"communication"},
{"t":16,"s":4700,"e":4864.2,"k":"communication"},
{"t":16,"s":4707.5,"e":4710.2,"k":"stencil"},{"t":16,"s":4716.8,"e":4718.2,"k":"stencil"},{"t":16,"s":4719.5,"e":4722.2,"k":"stencil"},{"t":16,"s":4724.9,"e":4731.6,"k":"stencil"},{"t":16,"s":4733.6,"e":4744.9,"k":"stencil"},{"t":16,"s":4744.9,"e":4759.6,"k":"stencil"},{"t":16,"s":4761.0,"e":4766.3,"k":"stencil"},{"t":16,"s":4767.6,"e":4773.7,"k":"stencil"},{"t":16,"s":4788.4,"e":4864.2,"k":"stencil"},
{"t":16,"s":4791.7,"e":4793.1,"k":"checksum"},{"t":16,"s":4795.7,"e":4797.1,"k":"checksum"},{"t":16,"s":4805.1,"e":4806.4,"k":"checksum"},{"t":16,"s":4810.4,"e":4811.8,"k":"checksum"},{"t":16,"s":4813.1,"e":4817.1,"k":"checksum"},{"t":16,"s":4821.1,"e":4822.5,"k":"checksum"},{"t":16,"s":4827.8,"e":4829.2,"k":"checksum"},{"t":16,"s":4835.2,"e":4838.5,"k":"checksum"},{"t":16,"s":4839.8,"e":4842.5,"k":"checksum"},{"t":16,"s":4847.9,"e":4849.2,"k":"checksum"},{"t":16,"s":4855.9,"e":4858.6,"k":"checksum"},{"t":16,"s":4860.6,"e":4863.9,"k":"checksum"},
{"t":16,"s":4799.7,"e":4800.4,"k":"communication"},
{"t":17,"s":4700,"e":4864.2,"k":"communication"},
{"t":17,"s":4712.8,"e":4715.5,"k":"stencil"},{"t":17,"s":4718.2,"e":4720.9,"k":"stencil"},{"t":17,"s":4722.2,"e":4724.9,"k":"stencil"},{"t":17,"s":4727.5,"e":4731.6,"k":"stencil"},{"t":17,"s":4735.6,"e":4744.9,"k":"stencil"},{"t":17,"s":4746.3,"e":4754.3,"k":"stencil"},{"t":17,"s":4755.6,"e":4762.3,"k":"stencil"},{"t":17,"s":4763.6,"e":4769.0,"k":"stencil"},{"t":17,"s":4770.3,"e":4774.3,"k":"stencil"},{"t":17,"s":4778.3,"e":4779.7,"k":"stencil"},{"t":17,"s":4781.0,"e":4782.4,"k":"stencil"},{"t":17,"s":4786.4,"e":4864.2,"k":"stencil"},
{"t":17,"s":4793.1,"e":4794.4,"k":"checksum"},{"t":17,"s":4798.4,"e":4799.7,"k":"checksum"},{"t":17,"s":4806.4,"e":4807.8,"k":"checksum"},{"t":17,"s":4815.8,"e":4817.1,"k":"checksum"},{"t":17,"s":4823.8,"e":4826.5,"k":"checksum"},{"t":17,"s":4829.2,"e":4830.5,"k":"checksum"},{"t":17,"s":4834.5,"e":4837.2,"k":"checksum"},{"t":17,"s":4839.8,"e":4842.5,"k":"checksum"},{"t":17,"s":4845.2,"e":4847.9,"k":"checksum"},{"t":17,"s":4850.5,"e":4853.2,"k":"checksum"},{"t":17,"s":4858.6,"e":4862.6,"k":"checksum"},
{"t":17,"s":4802.4,"e":4803.7,"k":"communication"},
{"t":18,"s":4700,"e":4864.2,"k":"communication"},
{"t":18,"s":4711.5,"e":4714.2,"k":"stencil"},{"t":18,"s":4719.5,"e":4722.2,"k":"stencil"},{"t":18,"s":4724.2,"e":4727.5,"k":"stencil"},{"t":18,"s":4729.5,"e":4738.2,"k":"stencil"},{"t":18,"s":4739.6,"e":4754.3,"k":"stencil"},{"t":18,"s":4755.6,"e":4759.6,"k":"stencil"},{"t":18,"s":4761.0,"e":4767.6,"k":"stencil"},{"t":18,"s":4770.3,"e":4775.7,"k":"stencil"},{"t":18,"s":4785.7,"e":4789.0,"k":"stencil"},{"t":18,"s":4794.4,"e":4864.2,"k":"stencil"},
{"t":18,"s":4784.0,"e":4785.7,"k":"checksum"},{"t":18,"s":4793.1,"e":4794.4,"k":"checksum"},{"t":18,"s":4802.4,"e":4803.7,"k":"checksum"},{"t":18,"s":4806.4,"e":4807.8,"k":"checksum"},{"t":18,"s":4815.8,"e":4817.1,"k":"checksum"},{"t":18,"s":4819.8,"e":4821.1,"k":"checksum"},{"t":18,"s":4825.1,"e":4826.5,"k":"checksum"},{"t":18,"s":4834.5,"e":4835.8,"k":"checksum"},{"t":18,"s":4841.2,"e":4842.5,"k":"checksum"},{"t":18,"s":4846.5,"e":4849.2,"k":"checksum"},{"t":18,"s":4851.9,"e":4853.2,"k":"checksum"},
{"t":18,"s":4797.1,"e":4797.7,"k":"communication"},
{"t":19,"s":4700,"e":4864.2,"k":"communication"},
{"t":19,"s":4702.1,"e":4704.1,"k":"stencil"},{"t":19,"s":4712.8,"e":4714.2,"k":"stencil"},{"t":19,"s":4714.8,"e":4716.8,"k":"stencil"},{"t":19,"s":4718.8,"e":4720.2,"k":"stencil"},{"t":19,"s":4721.5,"e":4723.5,"k":"stencil"},{"t":19,"s":4724.2,"e":4726.2,"k":"stencil"},{"t":19,"s":4727.5,"e":4730.2,"k":"stencil"},{"t":19,"s":4732.9,"e":4735.6,"k":"stencil"},{"t":19,"s":4736.9,"e":4740.9,"k":"stencil"},{"t":19,"s":4744.9,"e":4747.6,"k":"stencil"},{"t":19,"s":4748.9,"e":4754.3,"k":"stencil"},{"t":19,"s":4755.6,"e":4762.3,"k":"stencil"},{"t":19,"s":4763.6,"e":4767.6,"k":"stencil"},{"t":19,"s":4769.0,"e":4773.7,"k":"stencil"},{"t":19,"s":4787.7,"e":4864.2,"k":"stencil"},
{"t":19,"s":4801.7,"e":4802.4,"k":"checksum"},{"t":19,"s":4803.7,"e":4805.1,"k":"checksum"},{"t":19,"s":4811.8,"e":4813.1,"k":"checksum"},{"t":19,"s":4815.8,"e":4817.1,"k":"checksum"},{"t":19,"s":4829.2,"e":4831.2,"k":"checksum"},{"t":19,"s":4832.5,"e":4833.8,"k":"checksum"},{"t":19,"s":4838.5,"e":4839.8,"k":"checksum"},{"t":19,"s":4846.5,"e":4847.9,"k":"checksum"},{"t":19,"s":4851.9,"e":4853.2,"k":"checksum"},{"t":19,"s":4859.9,"e":4861.2,"k":"checksum"},
{"t":19,"s":4794.4,"e":4795.7,"k":"communication"},
{"t":20,"s":4700,"e":4864.2,"k":"communication"},
{"t":20,"s":4703.5,"e":4706.2,"k":"stencil"},{"t":20,"s":4712.8,"e":4714.2,"k":"stencil"},{"t":20,"s":4714.8,"e":4716.2,"k":"stencil"},{"t":20,"s":4720.2,"e":4722.2,"k":"stencil"},{"t":20,"s":4723.5,"e":4726.2,"k":"stencil"},{"t":20,"s":4726.9,"e":4731.6,"k":"stencil"},{"t":20,"s":4732.2,"e":4736.9,"k":"stencil"},{"t":20,"s":4738.2,"e":4743.6,"k":"stencil"},{"t":20,"s":4744.9,"e":4747.6,"k":"stencil"},{"t":20,"s":4748.9,"e":4754.3,"k":"stencil"},{"t":20,"s":4755.6,"e":4759.6,"k":"stencil"},{"t":20,"s":4761.0,"e":4767.6,"k":"stencil"},{"t":20,"s":4769.0,"e":4770.3,"k":"stencil"},{"t":20,"s":4771.7,"e":4774.3,"k":"stencil"},{"t":20,"s":4787.7,"e":4864.2,"k":"stencil"},
{"t":20,"s":4793.1,"e":4794.4,"k":"checksum"},{"t":20,"s":4795.7,"e":4797.1,"k":"checksum"},{"t":20,"s":4805.1,"e":4807.8,"k":"checksum"},{"t":20,"s":4810.4,"e":4811.8,"k":"checksum"},{"t":20,"s":4818.5,"e":4819.8,"k":"checksum"},{"t":20,"s":4821.1,"e":4823.8,"k":"checksum"},{"t":20,"s":4839.8,"e":4841.2,"k":"checksum"},{"t":20,"s":4846.5,"e":4849.2,"k":"checksum"},{"t":20,"s":4853.2,"e":4855.9,"k":"checksum"},{"t":20,"s":4860.6,"e":4862.6,"k":"checksum"},
{"t":20,"s":4799.7,"e":4800.4,"k":"communication"},{"t":20,"s":4829.2,"e":4830.5,"k":"communication"},
{"t":21,"s":4700,"e":4864.2,"k":"communication"},
{"t":21,"s":4715.5,"e":4716.8,"k":"stencil"},{"t":21,"s":4717.5,"e":4718.8,"k":"stencil"},{"t":21,"s":4720.9,"e":4723.5,"k":"stencil"},{"t":21,"s":4725.5,"e":4732.9,"k":"stencil"},{"t":21,"s":4734.2,"e":4740.9,"k":"stencil"},{"t":21,"s":4742.2,"e":4750.3,"k":"stencil"},{"t":21,"s":4751.6,"e":4756.9,"k":"stencil"},{"t":21,"s":4758.3,"e":4774.3,"k":"stencil"},{"t":21,"s":4786.4,"e":4789.0,"k":"stencil"},{"t":21,"s":4794.4,"e":4864.2,"k":"stencil"},
{"t":21,"s":4798.4,"e":4799.7,"k":"checksum"},{"t":21,"s":4806.4,"e":4807.8,"k":"checksum"},{"t":21,"s":4809.1,"e":4813.1,"k":"checksum"},{"t":21,"s":4818.5,"e":4819.8,"k":"checksum"},{"t":21,"s":4826.5,"e":4827.8,"k":"checksum"},{"t":21,"s":4829.2,"e":4831.8,"k":"checksum"},{"t":21,"s":4834.5,"e":4835.8,"k":"checksum"},{"t":21,"s":4839.8,"e":4842.5,"k":"checksum"},{"t":21,"s":4846.5,"e":4849.2,"k":"checksum"},{"t":21,"s":4855.9,"e":4857.2,"k":"checksum"},{"t":21,"s":4861.2,"e":4862.6,"k":"checksum"},
{"t":21,"s":4802.4,"e":4803.1,"k":"communication"},
{"t":22,"s":4700,"e":4864.2,"k":"communication"},
{"t":22,"s":4713.5,"e":4718.2,"k":"stencil"},{"t":22,"s":4719.5,"e":4723.5,"k":"stencil"},{"t":22,"s":4724.9,"e":4735.6,"k":"stencil"},{"t":22,"s":4736.2,"e":4744.9,"k":"stencil"},{"t":22,"s":4746.3,"e":4754.3,"k":"stencil"},{"t":22,"s":4755.6,"e":4762.3,"k":"stencil"},{"t":22,"s":4763.0,"e":4770.3,"k":"stencil"},{"t":22,"s":4771.7,"e":4777.0,"k":"stencil"},{"t":22,"s":4783.7,"e":4786.4,"k":"stencil"},{"t":22,"s":4793.1,"e":4864.2,"k":"stencil"},
{"t":22,"s":4797.1,"e":4799.1,"k":"checksum"},{"t":22,"s":4806.4,"e":4807.8,"k":"checksum"},{"t":22,"s":4813.1,"e":4814.4,"k":"checksum"},{"t":22,"s":4818.5,"e":4819.8,"k":"checksum"},{"t":22,"s":4829.2,"e":4834.5,"k":"checksum"},{"t":22,"s":4838.5,"e":4839.8,"k":"checksum"},{"t":22,"s":4845.2,"e":4846.5,"k":"checksum"},{"t":22,"s":4851.9,"e":4854.5,"k":"checksum"},{"t":22,"s":4861.2,"e":4863.2,"k":"checksum"},
{"t":22,"s":4801.1,"e":4801.7,"k":"communication"},
{"t":23,"s":4700,"e":4864.2,"k":"communication"},
{"t":23,"s":4708.8,"e":4711.5,"k":"stencil"},{"t":23,"s":4713.5,"e":4717.5,"k":"stencil"},{"t":23,"s":4720.2,"e":4723.5,"k":"stencil"},{"t":23,"s":4724.9,"e":4744.9,"k":"stencil"},{"t":23,"s":4746.3,"e":4751.6,"k":"stencil"},{"t":23,"s":4752.3,"e":4756.9,"k":"stencil"},{"t":23,"s":4758.3,"e":4766.3,"k":"stencil"},{"t":23,"s":4767.6,"e":4770.3,"k":"stencil"},{"t":23,"s":4771.0,"e":4774.3,"k":"stencil"},{"t":23,"s":4775.7,"e":4778.3,"k":"stencil"},{"t":23,"s":4789.0,"e":4864.2,"k":"stencil"},
{"t":23,"s":4794.4,"e":4795.1,"k":"checksum"},{"t":23,"s":4799.7,"e":4802.4,"k":"checksum"},{"t":23,"s":4805.1,"e":4806.4,"k":"checksum"},{"t":23,"s":4813.1,"e":4814.4,"k":"checksum"},{"t":23,"s":4818.5,"e":4819.8,"k":"checksum"},{"t":23,"s":4826.5,"e":4827.8,"k":"checksum"},{"t":23,"s":4832.5,"e":4834.5,"k":"checksum"},{"t":23,"s":4841.2,"e":4842.5,"k":"checksum"},{"t":23,"s":4847.9,"e":4849.2,"k":"checksum"},{"t":23,"s":4859.9,"e":4862.6,"k":"checksum"},
{"t":23,"s":4797.1,"e":4797.7,"k":"communication"},
{"t":24,"s":4700,"e":4864.2,"k":"communication"},
{"t":24,"s":4702.1,"e":4703.5,"k":"stencil"},{"t":24,"s":4716.8,"e":4722.2,"k":"stencil"},{"t":24,"s":4724.2,"e":4725.5,"k":"stencil"},{"t":24,"s":4727.5,"e":4731.6,"k":"stencil"},{"t":24,"s":4732.9,"e":4738.2,"k":"stencil"},{"t":24,"s":4740.2,"e":4746.3,"k":"stencil"},{"t":24,"s":4747.6,"e":4751.6,"k":"stencil"},{"t":24,"s":4752.9,"e":4765.0,"k":"stencil"},{"t":24,"s":4767.0,"e":4774.3,"k":"stencil"},{"t":24,"s":4785.3,"e":4789.0,"k":"stencil"},{"t":24,"s":4791.7,"e":4864.2,"k":"stencil"},
{"t":24,"s":4784.5,"e":4785.3,"k":"checksum"},{"t":24,"s":4793.1,"e":4794.4,"k":"checksum"},{"t":24,"s":4797.1,"e":4798.4,"k":"checksum"},{"t":24,"s":4806.4,"e":4807.8,"k":"checksum"},{"t":24,"s":4813.1,"e":4814.4,"k":"checksum"},{"t":24,"s":4821.1,"e":4823.8,"k":"checksum"},{"t":24,"s":4829.2,"e":4830.5,"k":"checksum"},{"t":24,"s":4833.2,"e":4835.8,"k":"checksum"},{"t":24,"s":4839.8,"e":4842.5,"k":"checksum"},{"t":24,"s":4847.9,"e":4849.2,"k":"checksum"},{"t":24,"s":4857.2,"e":4859.9,"k":"checksum"},
{"t":24,"s":4802.4,"e":4803.7,"k":"communication"},
{"t":25,"s":4700,"e":4864.2,"k":"communication"},
{"t":25,"s":4710.2,"e":4714.2,"k":"stencil"},{"t":25,"s":4715.5,"e":4720.9,"k":"stencil"},{"t":25,"s":4724.2,"e":4725.5,"k":"stencil"},{"t":25,"s":4727.5,"e":4728.9,"k":"stencil"},{"t":25,"s":4731.6,"e":4736.9,"k":"stencil"},{"t":25,"s":4738.2,"e":4743.6,"k":"stencil"},{"t":25,"s":4744.9,"e":4752.9,"k":"stencil"},{"t":25,"s":4754.3,"e":4759.6,"k":"stencil"},{"t":25,"s":4761.0,"e":4767.6,"k":"stencil"},{"t":25,"s":4768.3,"e":4771.7,"k":"stencil"},{"t":25,"s":4773.0,"e":4775.7,"k":"stencil"},{"t":25,"s":4793.1,"e":4864.2,"k":"stencil"},
{"t":25,"s":4799.7,"e":4801.1,"k":"checksum"},{"t":25,"s":4806.4,"e":4809.1,"k":"checksum"},{"t":25,"s":4814.4,"e":4815.8,"k":"checksum"},{"t":25,"s":4822.5,"e":4823.8,"k":"checksum"},{"t":25,"s":4831.8,"e":4835.8,"k":"checksum"},{"t":25,"s":4839.8,"e":4841.2,"k":"checksum"},{"t":25,"s":4845.2,"e":4846.5,"k":"checksum"},{"t":25,"s":4854.5,"e":4855.9,"k":"checksum"},{"t":25,"s":4859.9,"e":4861.2,"k":"checksum"},
{"t":25,"s":4803.7,"e":4804.4,"k":"communication"},
{"t":26,"s":4700,"e":4864.2,"k":"communication"},
{"t":26,"s":4712.8,"e":4714.8,"k":"stencil"},{"t":26,"s":4718.8,"e":4723.5,"k":"stencil"},{"t":26,"s":4724.2,"e":4728.9,"k":"stencil"},{"t":26,"s":4729.5,"e":4734.2,"k":"stencil"},{"t":26,"s":4734.9,"e":4744.9,"k":"stencil"},{"t":26,"s":4746.3,"e":4751.6,"k":"stencil"},{"t":26,"s":4752.9,"e":4756.9,"k":"stencil"},{"t":26,"s":4758.3,"e":4765.0,"k":"stencil"},{"t":26,"s":4767.6,"e":4773.0,"k":"stencil"},{"t":26,"s":4774.3,"e":4775.7,"k":"stencil"},{"t":26,"s":4789.0,"e":4864.2,"k":"stencil"},
{"t":26,"s":4794.4,"e":4795.1,"k":"checksum"},{"t":26,"s":4803.7,"e":4805.1,"k":"checksum"},{"t":26,"s":4807.8,"e":4810.4,"k":"checksum"},{"t":26,"s":4813.1,"e":4814.4,"k":"checksum"},{"t":26,"s":4817.1,"e":4818.5,"k":"checksum"},{"t":26,"s":4829.2,"e":4830.5,"k":"checksum"},{"t":26,"s":4834.5,"e":4835.8,"k":"checksum"},{"t":26,"s":4842.5,"e":4843.9,"k":"checksum"},{"t":26,"s":4849.2,"e":4850.5,"k":"checksum"},{"t":26,"s":4854.5,"e":4855.9,"k":"checksum"},{"t":26,"s":4861.2,"e":4862.6,"k":"checksum"},
{"t":26,"s":4798.4,"e":4799.1,"k":"communication"},
{"t":27,"s":4700,"e":4864.2,"k":"communication"},
{"t":27,"s":4715.5,"e":4717.5,"k":"stencil"},{"t":27,"s":4718.2,"e":4722.2,"k":"stencil"},{"t":27,"s":4722.9,"e":4725.5,"k":"stencil"},{"t":27,"s":4726.2,"e":4731.6,"k":"stencil"},{"t":27,"s":4732.9,"e":4740.9,"k":"stencil"},{"t":27,"s":4742.2,"e":4748.9,"k":"stencil"},{"t":27,"s":4750.3,"e":4756.9,"k":"stencil"},{"t":27,"s":4758.3,"e":4762.3,"k":"stencil"},{"t":27,"s":4763.6,"e":4766.3,"k":"stencil"},{"t":27,"s":4767.6,"e":4774.3,"k":"stencil"},{"t":27,"s":4791.7,"e":4864.2,"k":"stencil"},
{"t":27,"s":4794.4,"e":4795.1,"k":"checksum"},{"t":27,"s":4797.1,"e":4798.4,"k":"checksum"},{"t":27,"s":4802.4,"e":4803.7,"k":"checksum"},{"t":27,"s":4807.8,"e":4809.1,"k":"checksum"},{"t":27,"s":4814.4,"e":4815.8,"k":"checksum"},{"t":27,"s":4818.5,"e":4819.8,"k":"checksum"},{"t":27,"s":4833.2,"e":4834.5,"k":"checksum"},{"t":27,"s":4841.2,"e":4842.5,"k":"checksum"},{"t":27,"s":4846.5,"e":4847.9,"k":"checksum"},{"t":27,"s":4853.2,"e":4854.5,"k":"checksum"},
{"t":27,"s":4799.7,"e":4800.4,"k":"communication"}
]
},
"hconcat":[
{"width":410,"height":264,
"layer":[
{"data":{"name":"loop"},
"mark":{"type":"bar","height":7.9,"yOffset":-2.8,"stroke":"white","strokeWidth":0.8,"strokeOpacity":0.5,"clip":true},
"encoding":{
"x":{"field":"s","type":"quantitative","scale":{"domain":[4701.6,4866],"nice":false,"zero":false},
"axis":{"title":"Timestamp (ms)","values":[4725,4750,4775,4800,4825,4850],"format":"d","labelOverlap":false}},
"x2":{"field":"e"},
"y":{"field":"t","type":"quantitative","scale":{"domain":[-0.9,27.2],"reverse":true,"nice":false,"zero":false},
"axis":{"title":"Thread","values":[0,2,4,6,8,10,12,14,16,18,20,22,24,26],"tickCount":14,"format":"d","labelOverlap":false}},
"color":{"field":"k","type":"nominal","scale":{"domain":["communication","stencil","checksum"],"range":["#96d250","#2a788e","#440154"]},
"legend":{"orient":"none","legendX":158,"legendY":-43,"direction":"horizontal","title":null,"symbolType":"M-2.4,-1H2.4V1H-2.4Z","symbolSize":240,"symbolOffset":10.9,"symbolStrokeWidth":0,"symbolOpacity":1,"labelFont":"Liberation Serif","labelFontSize":19,"labelColor":"black","labelOffset":15,"columnPadding":49,"padding":7,"strokeColor":"#cccccc","fillColor":"white","cornerRadius":4,"labelLimit":0}}
}},
{"data":{"values":[{"label":"Loop"}]},
"mark":{"type":"rect","fill":"white","fillOpacity":0.7,"stroke":"#808080","strokeWidth":2,"strokeOpacity":0.8,"cornerRadius":5},
"encoding":{"x":{"datum":4706.8,"type":"quantitative","axis":{"title":"Timestamp (ms)","values":[4725,4750,4775,4800,4825,4850],"format":"d","labelOverlap":false}},"x2":{"datum":4729.7},"y":{"datum":-0.05,"type":"quantitative","axis":{"title":"Thread","values":[0,2,4,6,8,10,12,14,16,18,20,22,24,26],"tickCount":14,"format":"d","labelOverlap":false}},"y2":{"datum":3.04}}},
{"data":{"values":[{"label":"Loop"}]},
"mark":{"type":"text","font":"Liberation Serif","fontSize":19,"color":"black","align":"center","baseline":"middle"},
"encoding":{"x":{"datum":4718.2,"type":"quantitative","axis":{"title":"Timestamp (ms)","values":[4725,4750,4775,4800,4825,4850],"format":"d","labelOverlap":false}},"y":{"datum":1.49,"type":"quantitative","axis":{"title":"Thread","values":[0,2,4,6,8,10,12,14,16,18,20,22,24,26],"tickCount":14,"format":"d","labelOverlap":false}},"text":{"field":"label"}}}
]},
{"width":408,"height":264,
"layer":[
{"data":{"name":"task"},
"mark":{"type":"bar","height":7.9,"yOffset":-2.8,"stroke":"white","strokeWidth":0.8,"strokeOpacity":0.5,"clip":true},
"encoding":{
"x":{"field":"s","type":"quantitative","scale":{"domain":[4701.6,4865.4],"nice":false,"zero":false},
"axis":{"title":"Timestamp (ms)","values":[4725,4750,4775,4800,4825,4850],"format":"d","labelOverlap":false}},
"x2":{"field":"e"},
"y":{"field":"t","type":"quantitative","scale":{"domain":[-0.9,27.2],"reverse":true,"nice":false,"zero":false},"axis":null},
"color":{"field":"k","type":"nominal","scale":{"domain":["communication","stencil","checksum"],"range":["#96d250","#2a788e","#440154"]}}
}},
{"data":{"values":[{"label":"Task-2"}]},
"mark":{"type":"rect","fill":"white","fillOpacity":0.7,"stroke":"#808080","strokeWidth":2,"strokeOpacity":0.8,"cornerRadius":5},
"encoding":{"x":{"datum":4707.2,"type":"quantitative","axis":{"title":"Timestamp (ms)","values":[4725,4750,4775,4800,4825,4850],"format":"d","labelOverlap":false}},"x2":{"datum":4736.5},"y":{"datum":-0.16,"type":"quantitative","axis":null},"y2":{"datum":3.14}}},
{"data":{"values":[{"label":"Task-2"}]},
"mark":{"type":"text","font":"Liberation Serif","fontSize":19,"color":"black","align":"center","baseline":"middle"},
"encoding":{"x":{"datum":4721.8,"type":"quantitative","axis":{"title":"Timestamp (ms)","values":[4725,4750,4775,4800,4825,4850],"format":"d","labelOverlap":false}},"y":{"datum":1.49,"type":"quantitative","axis":null},"text":{"field":"label"}}}
]}
]
}
